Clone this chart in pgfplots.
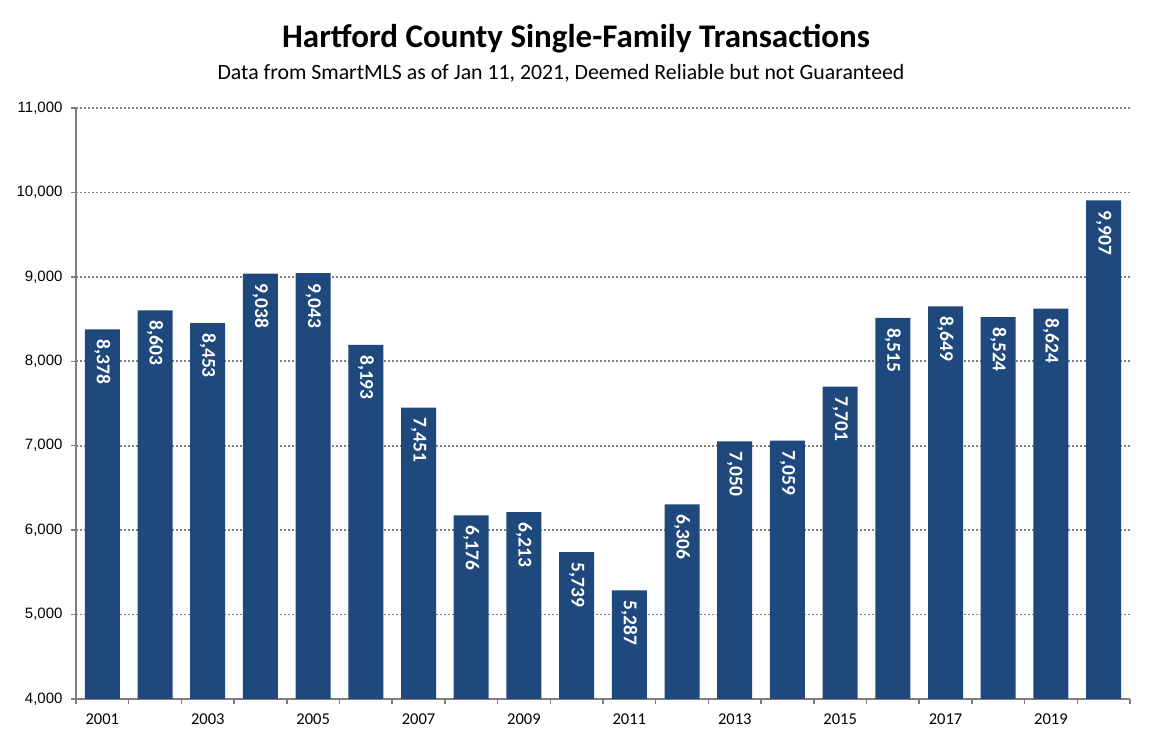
\documentclass[border=0pt]{standalone}
\usepackage{pgfplots}
\pgfplotsset{compat=1.18}
\usepackage{fontspec}
\setmainfont{Carlito}
\newfontfamily\arialf{Liberation Sans}
\definecolor{barblue}{RGB}{31,73,125}
\definecolor{axgray}{RGB}{128,128,128}
\begin{document}
\begin{tikzpicture}
\path[use as bounding box] (0,0) rectangle (1152pt,744pt);
\node[font=\fontsize{33}{36}\selectfont\bfseries] at (576pt,705pt) {Hartford County Single-Family Transactions};
\node[font=\fontsize{21.8}{24}\selectfont] at (561pt,671pt) {Data from SmartMLS as of Jan 11, 2021, Deemed Reliable but not Guaranteed};
\begin{axis}[
  at={(76pt,45pt)}, anchor=south west,
  scale only axis, width=1054pt, height=591pt,
  xmin=-0.5, xmax=19.5, ymin=4000, ymax=11000,
  axis x line*=bottom, axis y line*=left,
  axis line style={-, draw=axgray, line width=1.5pt},
  tick align=outside,
  tick style={draw=axgray, line width=1.5pt},
  major tick length=5pt,
  xtick={-0.5,0.5,...,19.5}, xticklabels={},
  extra x ticks={0,2,...,18},
  extra x tick labels={2001,2003,2005,2007,2009,2011,2013,2015,2017,2019},
  extra x tick style={major tick length=0pt, grid=none},
  ytick={4000,5000,...,11000},
  scaled y ticks=false,
  ymajorgrids,
  major grid style={draw=axgray, line width=1.8pt, dash pattern=on 1.8pt off 2.2pt},
  /pgf/number format/assume math mode=true,
  /pgf/number format/1000 sep={,},
  yticklabel style={font=\arialf\fontsize{15}{17}\selectfont, xshift=-5pt,
    /pgf/number format/fixed, /pgf/number format/precision=0},
  xticklabel style={font=\fontsize{16.5}{18}\selectfont, yshift=-11pt},
  ybar, bar width=35pt,
  nodes near coords,
  nodes near coords style={font=\fontsize{19.5}{21}\selectfont\bfseries, text=white, rotate=-90, anchor=west, inner xsep=10pt,
    /pgf/number format/fixed, /pgf/number format/precision=0},
]
\addplot[fill=barblue, draw=none] coordinates {
(0,8378) (1,8603) (2,8453) (3,9038) (4,9043) (5,8193) (6,7451) (7,6176) (8,6213) (9,5739)
(10,5287) (11,6306) (12,7050) (13,7059) (14,7701) (15,8515) (16,8649) (17,8524) (18,8624) (19,9907)};
\end{axis}
\end{tikzpicture}
\end{document}
